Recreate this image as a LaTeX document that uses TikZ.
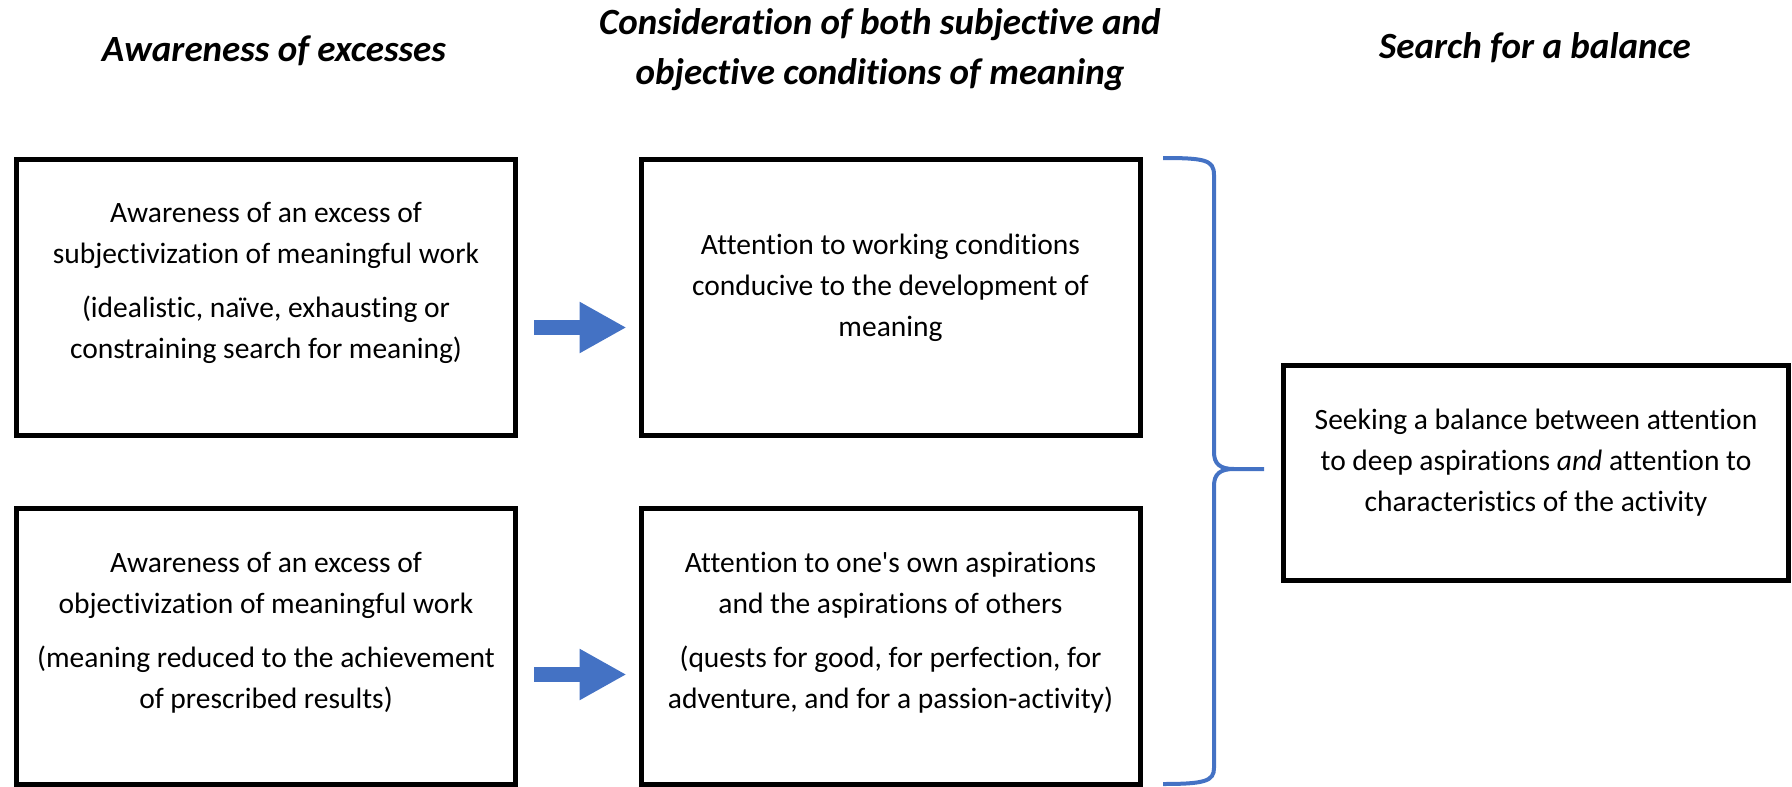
\documentclass[tikz,border=0pt]{standalone}
\usepackage{fontspec}
\setmainfont[Ligatures={NoCommon}]{Carlito}
\usetikzlibrary{arrows.meta}
\definecolor{obl}{HTML}{4472C4}
\tikzset{
  box/.style={draw=black, line width=5pt, inner sep=0pt, minimum width=499pt, minimum height=276pt},
  txt/.style={align=center, font=\fontsize{29.5}{41}\selectfont, inner sep=0pt},
  head/.style={align=center, font=\fontsize{37}{50}\selectfont\bfseries\itshape, inner sep=0pt},
  arr/.style={draw=obl, line width=15pt, -{Triangle[length=47pt, width=48pt]}},
  brace/.style={draw=obl, line width=4pt}
}
\begin{document}
\begin{tikzpicture}[x=1pt, y=-1pt]
\useasboundingbox (0,0) rectangle (1792,787);
% headings
\node[head] (h1) at (274,51) {Awareness of excesses};
\node[head] (h2) at (880,50) {Consideration of both subjective and\\objective conditions of meaning};
\node[head] (h3) at (1535,48) {Search for a balance};
% boxes
\node[box] (b1) at (266,297.5) {};
\node[box] (b2) at (266,646.5) {};
\node[box] (b3) at (890.5,297.5) {};
\node[box] (b4) at (890.5,646.5) {};
\node[box, minimum width=505pt, minimum height=215pt] (b5) at (1536,473) {};
% texts
\node[txt] (t1) at ([yshift=15]b1.center) {Awareness of an excess of\\subjectivization of meaningful work\\[13pt](idealistic, naïve, exhausting or\\constraining search for meaning)};
\node[txt] (t2) at ([yshift=14]b2.center) {Awareness of an excess of\\objectivization of meaningful work\\[13pt](meaning reduced to the achievement\\of prescribed results)};
\node[txt] (t3) at ([yshift=10]b3.center) {Attention to working conditions\\conducive to the development of\\meaning};
\node[txt] (t4) at ([yshift=14]b4.center) {Attention to one\textquotesingle s own aspirations\\and the aspirations of others\\[13pt](quests for good, for perfection, for\\adventure, and for a passion-activity)};
\node[txt] (t5) at ([yshift=10]b5.center) {Seeking a balance between attention\\to deep aspirations \textit{and} attention to\\characteristics of the activity};
% arrows
\draw[arr] ([xshift=16pt, yshift=-30pt]b1.east) -- ([xshift=-12pt, yshift=-30pt]b3.west);
\draw[arr] ([xshift=16pt, yshift=-28pt]b2.east) -- ([xshift=-12pt, yshift=-28pt]b4.west);
% brace
\coordinate (tip) at (1264,469);
\draw[brace] (1163,158) .. controls (1205,158) and (1214,160) .. (1214,175)
  -- (1214,452) .. controls (1214,464) and (1220,469) .. (1234,469) -- (tip)
  (1234,469) .. controls (1220,469) and (1214,474) .. (1214,486)
  -- (1214,768) .. controls (1214,781) and (1205,784) .. (1163,784);
\end{tikzpicture}
\end{document}
